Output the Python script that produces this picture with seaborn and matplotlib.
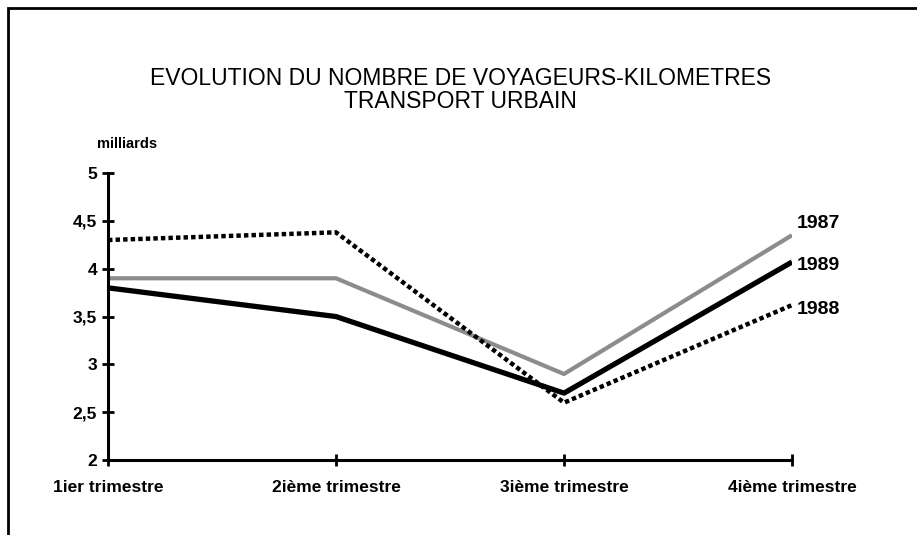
import pandas as pd
import matplotlib.pyplot as plt
import seaborn as sns
from matplotlib.patches import Rectangle

trimestres = ['1ier trimestre', '2ième trimestre', '3ième trimestre', '4ième trimestre']
v1987 = [3.9, 3.9, 2.9, 4.35]
v1988 = [4.3, 4.38, 2.6, 3.62]
v1989 = [3.8, 3.5, 2.7, 4.07]
y_ticks = [2, 2.5, 3, 3.5, 4, 4.5, 5]
y_labels = ['2', '2,5', '3', '3,5', '4', '4,5', '5']

data = pd.DataFrame({
    'pos': list(range(4)) * 3,
    'valeur': v1987 + v1988 + v1989,
    'annee': ['1987'] * 4 + ['1988'] * 4 + ['1989'] * 4,
})

sns.set_style('white')
plt.rcParams['font.family'] = ['Liberation Sans', 'DejaVu Sans']
plt.rcParams['text.color'] = 'black'
plt.rcParams['xtick.color'] = 'black'
plt.rcParams['ytick.color'] = 'black'

fig = plt.figure(figsize=(9.17, 5.35), dpi=100)
ax = fig.add_axes([0.1178, 0.140, 0.7459, 0.5366])

styles = {
    '1987': dict(color='#8c8c8c', linewidth=3.0, linestyle='-'),
    '1988': dict(color='black', linewidth=3.2, linestyle=(0, (1.0, 0.7))),
    '1989': dict(color='black', linewidth=3.8, linestyle='-'),
}
for annee in ['1987', '1989', '1988']:
    sub = data[data['annee'] == annee]
    sns.lineplot(data=sub, x='pos', y='valeur', ax=ax, legend=False,
                 solid_capstyle='butt', **styles[annee])

ax.set_xlim(0, 3)
ax.set_ylim(2, 5)
ax.set_xticks(range(4))
ax.set_xticklabels(trimestres, fontsize=12.5, fontweight='bold')
ax.set_yticks(y_ticks)
ax.set_yticklabels(y_labels, fontsize=12.5, fontweight='bold')
ax.set_xlabel('')
ax.set_ylabel('')
for s in ['top', 'right']:
    ax.spines[s].set_visible(False)
for s in ['left', 'bottom']:
    ax.spines[s].set_linewidth(2.2)
    ax.spines[s].set_color('black')
ax.tick_params(axis='both', bottom=True, left=True, direction='inout',
               length=8, width=2, color='black', labelcolor='black')
ax.tick_params(axis='y', pad=4)
ax.tick_params(axis='x', pad=10)

# étiquettes des séries
last = {'1987': v1987[-1], '1988': v1988[-1], '1989': v1989[-1]}
offs = {'1987': 0.12, '1988': -0.05, '1989': -0.04}
for annee, val in last.items():
    ax.text(3.02, val + offs[annee], annee, fontsize=14, fontweight='bold',
            va='center', ha='left', clip_on=False)

ax.text(-0.05, 5.3, 'milliards', fontsize=10.5, fontweight='bold', ha='left',
        va='center', clip_on=False)

fig.text(0.502, 0.832, 'EVOLUTION DU NOMBRE DE VOYAGEURS-KILOMETRES\nTRANSPORT URBAIN',
         fontsize=16.5, ha='center', va='center', linespacing=1.0)

fig.patches.append(Rectangle((8 / 917, -0.05), 1.2, 1 - 8 / 535 + 0.05,
                             transform=fig.transFigure, fill=False,
                             edgecolor='black', linewidth=2))

fig.savefig('out.png', dpi=100)
